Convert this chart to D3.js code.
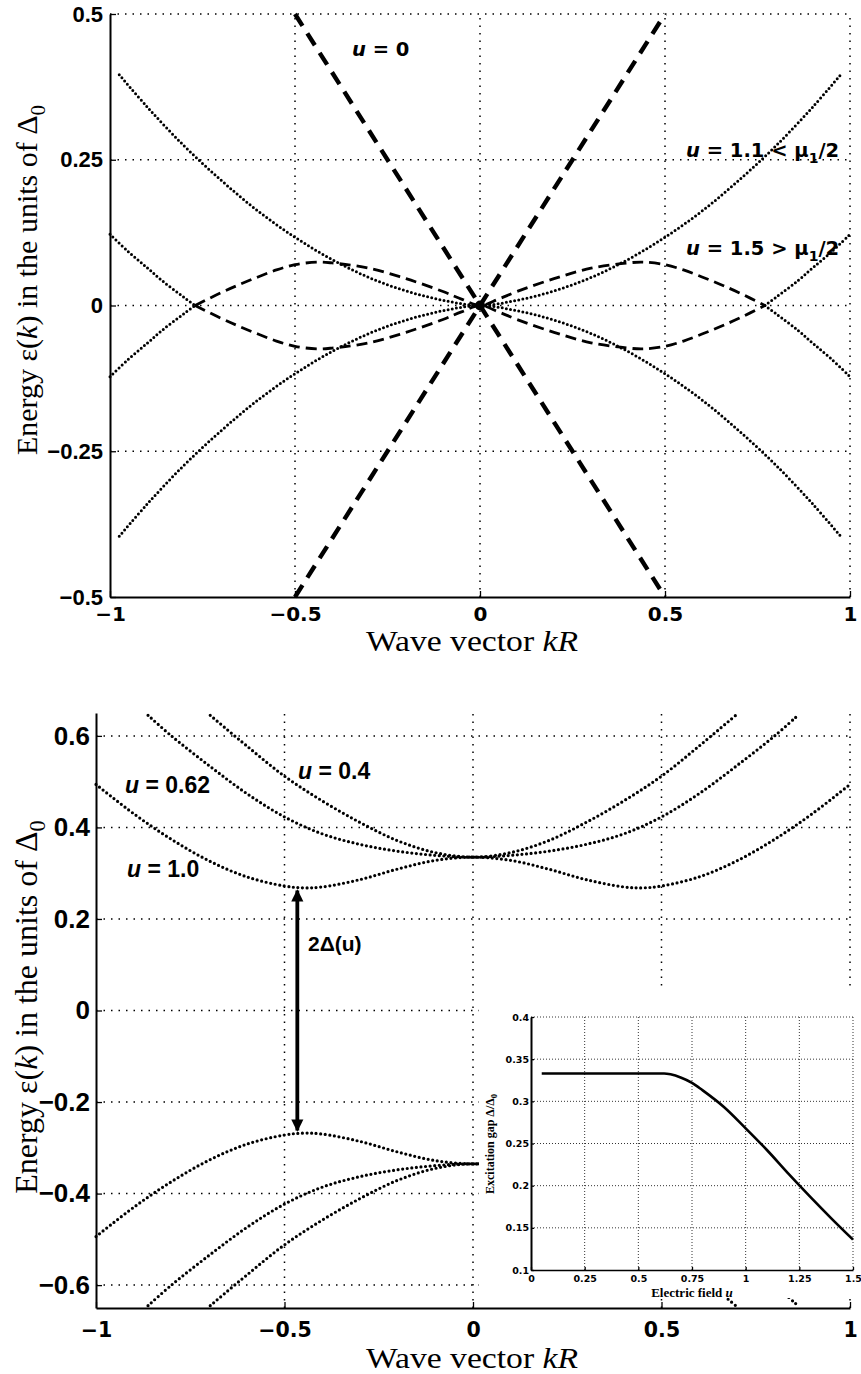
<!DOCTYPE html>
<html><head><meta charset="utf-8">
<script src="https://cdn.jsdelivr.net/npm/d3@7"></script>
<style>body{margin:0;background:#fff} svg{display:block}</style>
</head><body>
<svg id="chart" width="861" height="1374"></svg>
<script>
// ================= DATA =================
// Top panel
const topTickX = [-1, -0.5, 0, 0.5, 1];
const topTickXLab = ["\u22121", "\u22120.5", "0", "0.5", "1"];
const topTickY = [-0.5, -0.25, 0, 0.25, 0.5];
const topTickYLab = ["\u22120.5", "\u22120.25", "0", "0.25", "0.5"];
const topGridX = [-0.5, 0, 0.5, 1];
const topGridY = [-0.25, 0, 0.25, 0.5];

// u = 0 : straight lines
const u0K = [-0.5, 0.5];
const u0Up = [-0.5, 0.5];
const u0Down = [0.5, -0.5];

// u = 1.1 (dotted), upper and lower branches
const u11K = [-0.975, -0.9, -0.8, -0.7, -0.6, -0.5, -0.4, -0.3, -0.2, -0.1, 0, 0.1, 0.2, 0.3, 0.4, 0.5, 0.6, 0.7, 0.8, 0.9, 0.975];
const u11Up = [0.396, 0.341, 0.274, 0.215, 0.162, 0.117, 0.079, 0.048, 0.025, 0.009, 0, 0.009, 0.025, 0.048, 0.079, 0.117, 0.162, 0.215, 0.274, 0.341, 0.396];
const u11Lo = [-0.396, -0.341, -0.274, -0.215, -0.162, -0.117, -0.079, -0.048, -0.025, -0.009, 0, -0.009, -0.025, -0.048, -0.079, -0.117, -0.162, -0.215, -0.274, -0.341, -0.396];

// u = 1.5 (dashed centre, dotted outer)
const u15K = [-1, -0.95, -0.9, -0.86, -0.8, -0.77, -0.7, -0.65, -0.6, -0.55, -0.5, -0.44, -0.4, -0.3, -0.2, -0.1, -0.05, 0, 0.05, 0.1, 0.2, 0.3, 0.4, 0.44, 0.5, 0.55, 0.6, 0.65, 0.7, 0.77, 0.8, 0.86, 0.9, 0.95, 1];
const u15Up = [-0.122, -0.092, -0.065, -0.043, -0.014, 0, 0.022, 0.036, 0.049, 0.061, 0.070, 0.0745, 0.073, 0.064, 0.046, 0.024, 0.011, 0, 0.011, 0.024, 0.046, 0.064, 0.073, 0.0745, 0.070, 0.061, 0.049, 0.036, 0.022, 0, -0.014, -0.043, -0.065, -0.092, -0.122];
const u15Lo = [0.122, 0.092, 0.065, 0.043, 0.014, 0, -0.022, -0.036, -0.049, -0.061, -0.070, -0.0745, -0.073, -0.064, -0.046, -0.024, -0.011, 0, -0.011, -0.024, -0.046, -0.064, -0.073, -0.0745, -0.070, -0.061, -0.049, -0.036, -0.022, 0, 0.014, 0.043, 0.065, 0.092, 0.122];
const u15Split = 0.77;
const originPt = [[0, 0]];

// Bottom panel
const botTickX = [-1, -0.5, 0, 0.5, 1];
const botTickXLab = ["\u22121", "\u22120.5", "0", "0.5", "1"];
const botTickY = [-0.6, -0.4, -0.2, 0, 0.2, 0.4, 0.6];
const botTickYLab = ["\u22120.6", "\u22120.4", "\u22120.2", "0", "0.2", "0.4", "0.6"];
const botGridX = [-0.5, 0, 0.5, 1];

const u10K = [-1, -0.9, -0.8, -0.7, -0.6, -0.5, -0.45, -0.4, -0.3, -0.2, -0.1, 0, 0.1, 0.2, 0.3, 0.4, 0.45, 0.5, 0.6, 0.7, 0.8, 0.9, 1];
const u10Up = [0.494, 0.430, 0.374, 0.327, 0.292, 0.272, 0.268, 0.270, 0.286, 0.309, 0.328, 0.335, 0.328, 0.309, 0.286, 0.270, 0.268, 0.272, 0.292, 0.327, 0.374, 0.430, 0.494];
const u10Lo = [-0.494, -0.430, -0.374, -0.327, -0.292, -0.272, -0.268, -0.270, -0.286, -0.309, -0.328, -0.335, -0.328, -0.309, -0.286, -0.270, -0.268, -0.272, -0.292, -0.327, -0.374, -0.430, -0.494];

const u062K = [-0.862, -0.8, -0.7, -0.6, -0.5, -0.4, -0.3, -0.2, -0.1, 0, 0.1, 0.2, 0.3, 0.4, 0.5, 0.6, 0.7, 0.8, 0.862];
const u062Up = [0.645, 0.600, 0.535, 0.474, 0.423, 0.386, 0.363, 0.348, 0.339, 0.335, 0.339, 0.348, 0.363, 0.386, 0.423, 0.474, 0.535, 0.600, 0.645];
const u062Lo = [-0.645, -0.600, -0.535, -0.474, -0.423, -0.386, -0.363, -0.348, -0.339, -0.335, -0.339, -0.348, -0.363, -0.386, -0.423, -0.474, -0.535, -0.600, -0.645];

const u04K = [-0.697, -0.6, -0.5, -0.4, -0.3, -0.2, -0.1, 0, 0.1, 0.2, 0.3, 0.4, 0.5, 0.6, 0.697];
const u04Up = [0.645, 0.578, 0.512, 0.458, 0.411, 0.371, 0.345, 0.335, 0.345, 0.371, 0.411, 0.458, 0.512, 0.578, 0.645];
const u04Lo = [-0.645, -0.578, -0.512, -0.458, -0.411, -0.371, -0.345, -0.335, -0.345, -0.371, -0.411, -0.458, -0.512, -0.578, -0.645];

const gapArrowK = -0.466;
const gapArrowE = [0.262, -0.262];

// Inset
const insTickX = [0, 0.25, 0.5, 0.75, 1, 1.25, 1.5];
const insTickXLab = ["0", "0.25", "0.5", "0.75", "1", "1.25", "1.5"];
const insTickY = [0.1, 0.15, 0.2, 0.25, 0.3, 0.35, 0.4];
const insTickYLab = ["0.1", "0.15", "0.2", "0.25", "0.3", "0.35", "0.4"];
const insU = [0.05, 0.2, 0.4, 0.62, 0.65, 0.7, 0.75, 0.8, 0.9, 1.0, 1.1, 1.2, 1.3, 1.4, 1.5];
const insGap = [0.333, 0.333, 0.333, 0.333, 0.332, 0.328, 0.322, 0.313, 0.293, 0.268, 0.242, 0.214, 0.187, 0.161, 0.136];

// ================= DRAW =================
const svg = d3.select("#chart");
const DJ = "'DejaVu Sans', sans-serif";
const AR = "'Liberation Sans', Arial, sans-serif";
const SERIF = "'Liberation Serif', 'Times New Roman', serif";
const zip = (ks, es) => ks.map((k, i) => [k, es[i]]);

function gridLines(g, x, y, xs, ys, xDom, yDom, w, dash) {
  g.selectAll(null).data(xs).join("line")
    .attr("x1", d => x(d)).attr("x2", d => x(d))
    .attr("y1", y(yDom[0])).attr("y2", y(yDom[1]))
    .attr("stroke", "#000").attr("stroke-width", w).attr("stroke-dasharray", dash);
  g.selectAll(null).data(ys).join("line")
    .attr("y1", d => y(d)).attr("y2", d => y(d))
    .attr("x1", x(xDom[0])).attr("x2", x(xDom[1]))
    .attr("stroke", "#000").attr("stroke-width", w).attr("stroke-dasharray", dash);
}

function curve(g, x, y, pts, style, curveType) {
  const line = d3.line().x(d => x(d[0])).y(d => y(d[1])).curve(curveType || d3.curveCatmullRom.alpha(0.5));
  g.append("path").datum(pts).attr("d", line)
    .attr("fill", "none").attr("stroke", "#000")
    .attr("stroke-width", style.w).attr("stroke-dasharray", style.dash || null)
    .attr("stroke-linecap", style.cap || "butt");
}

function styleAxis(g, font, size, domW) {
  g.select(".domain").attr("stroke-width", domW);
  g.selectAll(".tick line").attr("stroke-width", 1.3);
  g.selectAll("text").attr("font-family", font).attr("font-weight", "bold").attr("font-size", size).attr("fill", "#000");
}

function label(g, x, y, parts, font, size) {
  const t = g.append("text").attr("x", x).attr("y", y)
    .attr("font-family", font).attr("font-weight", "bold").attr("font-size", size);
  parts.forEach(p => {
    const s = t.append("tspan").text(p.t);
    if (p.i) s.attr("font-style", "italic");
    if (p.sub) s.attr("font-size", size * 0.72).attr("dy", size * 0.3);
    if (p.up) s.attr("dy", -size * 0.3);
  });
  return t;
}

// ---------- TOP PANEL ----------
const xT = d3.scaleLinear().domain([-1, 1]).range([110, 850]);
const yT = d3.scaleLinear().domain([-0.5, 0.5]).range([597, 14]);
const gT = svg.append("g");
gridLines(gT, xT, yT, topGridX, topGridY, [-1, 1], [-0.5, 0.5], 1.5, "1.5 6");

const dotT = {w: 3, dash: "0 4.2", cap: "round"};
const dashT = {w: 2.8, dash: "11 6"};
curve(gT, xT, yT, zip(u11K, u11Up), dotT);
curve(gT, xT, yT, zip(u11K, u11Lo), dotT);
[u15Up, u15Lo].forEach(arr => {
  const pts = zip(u15K, arr);
  curve(gT, xT, yT, pts.filter(p => p[0] <= -u15Split), dotT);
  curve(gT, xT, yT, pts.filter(p => Math.abs(p[0]) <= u15Split), dashT);
  curve(gT, xT, yT, pts.filter(p => p[0] >= u15Split), dotT);
});
curve(gT, xT, yT, zip(u0K, u0Up), {w: 4.4, dash: "14 9"}, d3.curveLinear);
curve(gT, xT, yT, zip(u0K, u0Down), {w: 4.4, dash: "14 9"}, d3.curveLinear);
gT.selectAll(null).data(originPt).join("circle")
  .attr("cx", d => xT(d[0])).attr("cy", d => yT(d[1])).attr("r", 5).attr("fill", "#000");

gT.append("g").attr("transform", `translate(${xT(-1)},0)`)
  .call(d3.axisLeft(yT).tickValues(topTickY).tickFormat((d, i) => topTickYLab[i]).tickSize(-6).tickSizeOuter(0).tickPadding(7))
  .call(g => styleAxis(g, AR, 22, 2));
gT.append("g").attr("transform", `translate(0,${yT(-0.5)})`)
  .call(d3.axisBottom(xT).tickValues(topTickX).tickFormat((d, i) => topTickXLab[i]).tickSize(-6).tickSizeOuter(0).tickPadding(10))
  .call(g => styleAxis(g, DJ, 20, 2));

label(gT, 352, 56, [{t: "u", i: 1}, {t: " = 0"}], DJ, 19.5);
label(gT, 686, 157, [{t: "u", i: 1}, {t: " = 1.1 < \u03bc"}, {t: "1", sub: 1}, {t: "/2", up: 1}], DJ, 19.5);
label(gT, 686, 255, [{t: "u", i: 1}, {t: " = 1.5 > \u03bc"}, {t: "1", sub: 1}, {t: "/2", up: 1}], DJ, 19.5);

// axis titles
function xTitle(g, cx, y) {
  const t = g.append("text").attr("x", cx).attr("y", y).attr("text-anchor", "middle")
    .attr("font-family", SERIF).attr("font-size", 30).attr("textLength", 212).attr("lengthAdjust", "spacingAndGlyphs");
  t.append("tspan").text("Wave vector ");
  t.append("tspan").attr("font-style", "italic").text("kR");
}
function yTitle(g, x, cy, size) {
  const t = g.append("text").attr("transform", `translate(${x},${cy}) rotate(-90)`).attr("text-anchor", "middle")
    .attr("font-family", SERIF).attr("font-size", size);
  t.append("tspan").text("Energy  \u03b5(");
  t.append("tspan").attr("font-style", "italic").text("k");
  t.append("tspan").text(") in the units of \u0394");
  t.append("tspan").attr("font-size", size * 0.7).attr("dy", size * 0.25).text("0");
}
xTitle(gT, 472, 651);
yTitle(gT, 37, 280, 30);

// ---------- BOTTOM PANEL ----------
const xB = d3.scaleLinear().domain([-1, 1]).range([96, 850]);
const yB = d3.scaleLinear().domain([-0.65, 0.65]).range([1308, 713]);
const gB = svg.append("g");
gridLines(gB, xB, yB, botGridX, botTickY, [-1, 1], [-0.65, 0.65], 1.5, "1.5 6");

const dotB = {w: 3.2, dash: "0 4.6", cap: "round"};
[[u10K, u10Up], [u10K, u10Lo], [u062K, u062Up], [u062K, u062Lo], [u04K, u04Up], [u04K, u04Lo]]
  .forEach(([k, e]) => curve(gB, xB, yB, zip(k, e), dotB));

// gap arrow
const defs = svg.append("defs");
defs.append("marker").attr("id", "ah").attr("viewBox", "0 0 10 10").attr("refX", 9).attr("refY", 5)
  .attr("markerWidth", 3.2).attr("markerHeight", 4.5).attr("markerUnits", "strokeWidth").attr("orient", "auto-start-reverse")
  .append("path").attr("d", "M0,0 L10,5 L0,10 z").attr("fill", "#000");
gB.append("line")
  .attr("x1", xB(gapArrowK)).attr("x2", xB(gapArrowK))
  .attr("y1", yB(gapArrowE[0])).attr("y2", yB(gapArrowE[1]))
  .attr("stroke", "#000").attr("stroke-width", 3.8)
  .attr("marker-start", "url(#ah)").attr("marker-end", "url(#ah)");

gB.append("g").attr("transform", `translate(${xB(-1)},0)`)
  .call(d3.axisLeft(yB).tickValues(botTickY).tickFormat((d, i) => botTickYLab[i]).tickSize(-6).tickSizeOuter(0).tickPadding(6))
  .call(g => styleAxis(g, AR, 26, 2));
gB.append("g").attr("transform", `translate(0,${yB(-0.65)})`)
  .call(d3.axisBottom(xB).tickValues(botTickX).tickFormat((d, i) => botTickXLab[i]).tickSize(-6).tickSizeOuter(0).tickPadding(14))
  .call(g => styleAxis(g, DJ, 20.5, 2));

label(gB, 125, 793, [{t: "u", i: 1}, {t: " = 0.62"}], AR, 23);
label(gB, 298, 779, [{t: "u", i: 1}, {t: " = 0.4"}], AR, 23);
label(gB, 127, 877, [{t: "u", i: 1}, {t: " = 1.0"}], AR, 23);
label(gB, 308, 951, [{t: "2\u0394(u)"}], AR, 21);

xTitle(gB, 472, 1368);
yTitle(gB, 37, 1007, 32);

// ---------- INSET ----------
const gI = svg.append("g");
gI.append("rect").attr("x", 479).attr("y", 988).attr("width", 382).attr("height", 310).attr("fill", "#fff");
const xI = d3.scaleLinear().domain([0, 1.5]).range([531, 853]);
const yI = d3.scaleLinear().domain([0.1, 0.4]).range([1270, 1017]);
gridLines(gI, xI, yI, insTickX.slice(1), insTickY.slice(1), [0, 1.5], [0.1, 0.4], 0.8, "1 2");
curve(gI, xI, yI, zip(insU, insGap), {w: 2.6}, d3.curveMonotoneX);
gI.append("g").attr("transform", `translate(${xI(0)},0)`)
  .call(d3.axisLeft(yI).tickValues(insTickY).tickFormat((d, i) => insTickYLab[i]).tickSize(-3).tickSizeOuter(0).tickPadding(2))
  .call(g => styleAxis(g, DJ, 9.5, 2));
gI.append("g").attr("transform", `translate(0,${yI(0.1)})`)
  .call(d3.axisBottom(xI).tickValues(insTickX).tickFormat((d, i) => insTickXLab[i]).tickSize(-3).tickSizeOuter(0).tickPadding(5))
  .call(g => styleAxis(g, DJ, 9.5, 1.6));
{
  const t = gI.append("text").attr("x", 692).attr("y", 1297).attr("text-anchor", "middle")
    .attr("font-family", SERIF).attr("font-size", 13).attr("font-weight", "bold");
  t.append("tspan").text("Electric field  ");
  t.append("tspan").attr("font-style", "italic").text("u");
  const t2 = gI.append("text").attr("transform", "translate(494,1144) rotate(-90)").attr("text-anchor", "middle")
    .attr("font-family", SERIF).attr("font-size", 12).attr("font-weight", "bold");
  t2.append("tspan").text("Excitation gap \u0394/\u0394");
  t2.append("tspan").attr("font-size", 8.5).attr("dy", 3).text("0");
}
</script>
</body></html>
